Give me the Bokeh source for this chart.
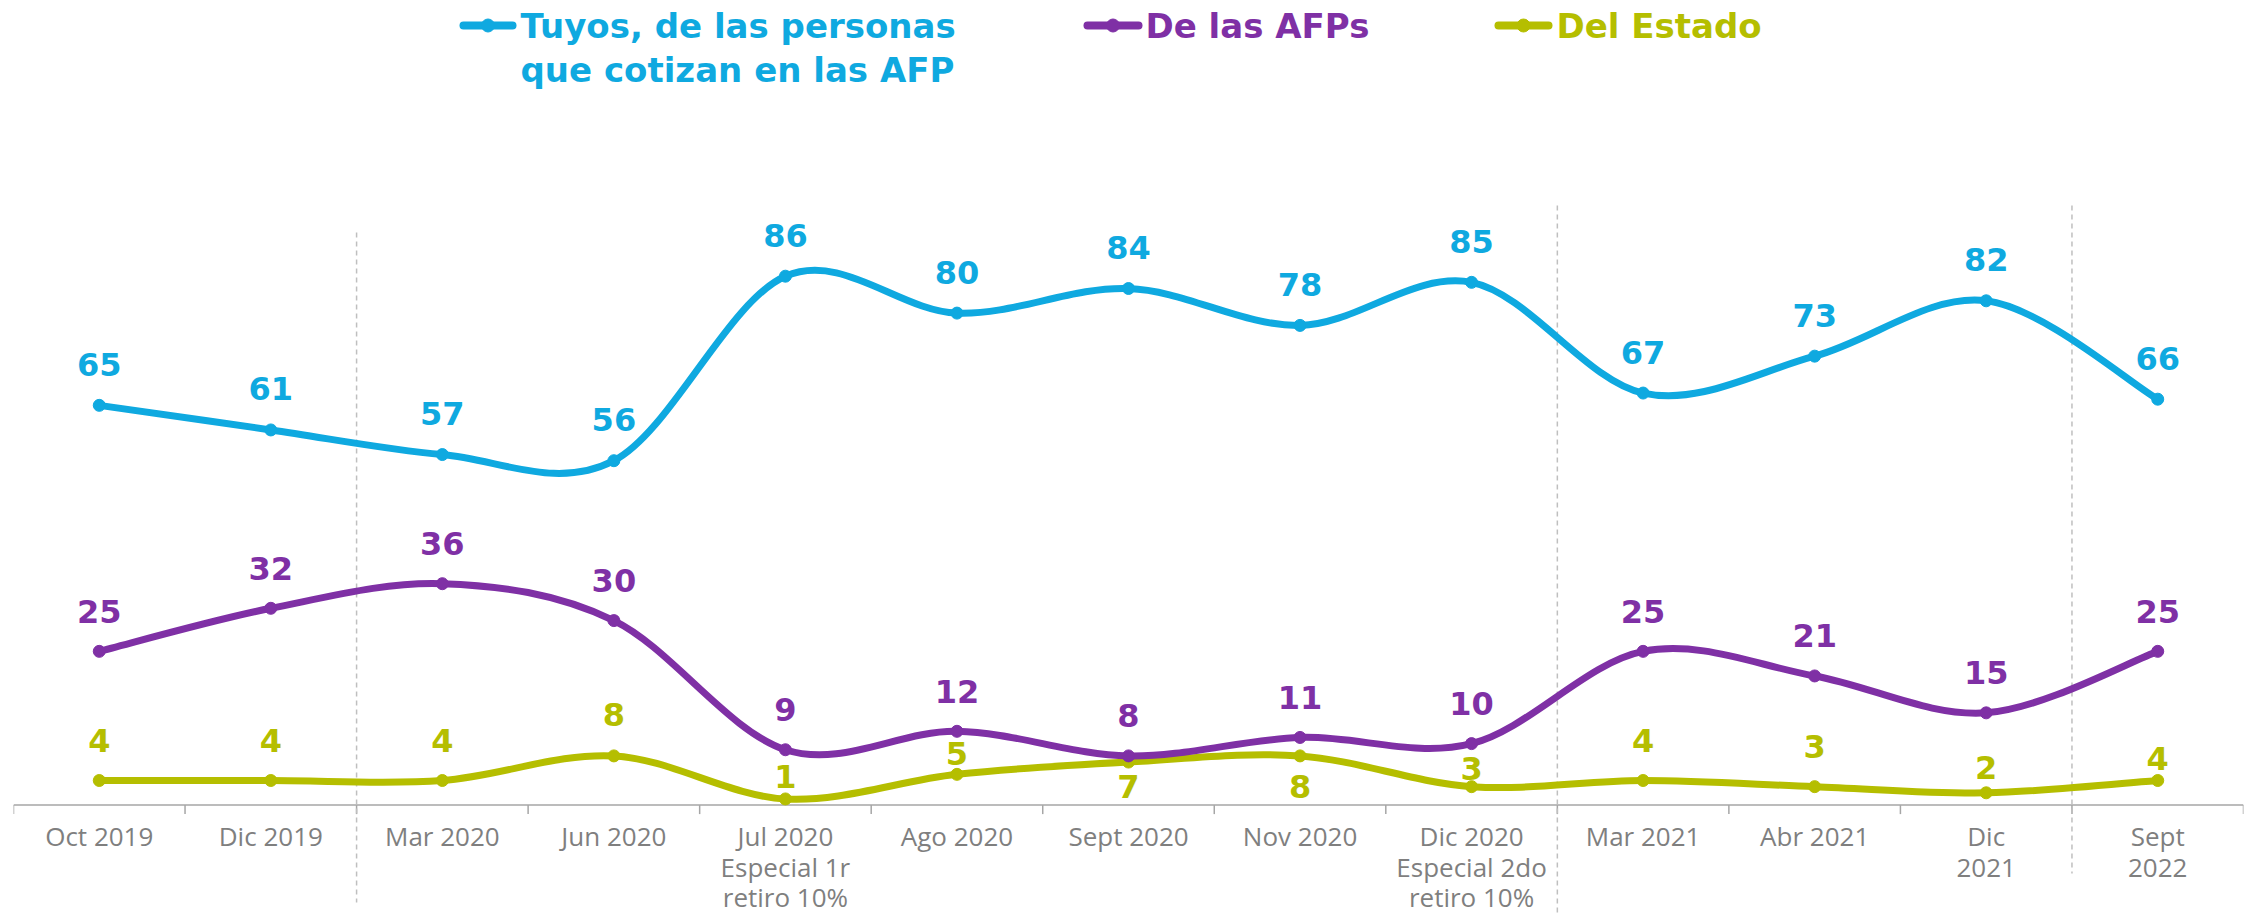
from bokeh.plotting import figure
from bokeh.models import Range1d, ColumnDataSource
from bokeh.core.properties import value
from bokeh.embed import file_html
from bokeh.resources import INLINE

# ---------------- data ----------------
categories = [
    "Oct 2019", "Dic 2019", "Mar 2020", "Jun 2020",
    "Jul 2020\nEspecial 1r\nretiro 10%", "Ago 2020", "Sept 2020", "Nov 2020",
    "Dic 2020\nEspecial 2do\nretiro 10%", "Mar 2021", "Abr 2021",
    "Dic\n2021", "Sept\n2022",
]
tuyos = [65, 61, 57, 56, 86, 80, 84, 78, 85, 67, 73, 82, 66]
afps = [25, 32, 36, 30, 9, 12, 8, 11, 10, 25, 21, 15, 25]
estado = [4, 4, 4, 8, 1, 5, 7, 8, 3, 4, 3, 2, 4]
series_names = ["Tuyos, de las personas\nque cotizan en las AFP", "De las AFPs", "Del Estado"]
separator_after = [1, 8, 11]  # dashed separators after these category indices

# ---------------- style ----------------
colors = ["#0FA9E0", "#7F30A5", "#B5BE00"]
TICK_FONT = "Open Sans"
BOLD_FONT = "DejaVu Sans"
W, H = 2252, 916
BL, BR = 13, 9
FRAME_W = W - BL - BR
PXU = 6.15             # px per value unit
ZERO_Y = 804.6         # canvas y of value 0
y_top = ZERO_Y / PXU
y_bot = -(H - ZERO_Y) / PXU
n = len(categories)
XU = FRAME_W / n


def ypx(cy):
    return (ZERO_Y - cy) / PXU


def xpx(cx):
    return -0.5 + (cx - BL) / XU


# label centre offsets above point (px); negative = below
label_off = [
    [41] * n,
    [40] * n,
    [40, 40, 40, 41, 22, 21, -24, -31, 18, 40, 40, 25, 22],
]
LFS = 32

p = figure(width=W, height=H, output_backend="svg", toolbar_location=None,
           x_range=Range1d(-0.5, n - 0.5), y_range=Range1d(y_bot, y_top),
           x_axis_location=None, y_axis_location=None,
           min_border_left=BL, min_border_right=BR, min_border_top=0, min_border_bottom=0)
p.outline_line_color = None
p.xgrid.visible = False
p.ygrid.visible = False
p.background_fill_color = "white"
p.border_fill_color = "white"

xs = list(range(n))

# axis line and ticks at category boundaries
p.segment(x0=[-0.5], y0=[0], x1=[n - 0.5], y1=[0], line_color="#A6A6A6", line_width=1.5)
bounds = [i - 0.5 for i in range(n + 1)]
p.segment(x0=bounds, y0=[0] * len(bounds), x1=bounds, y1=[-9 / PXU] * len(bounds),
          line_color="#A6A6A6", line_width=1.5)

# dashed separators
sep_x = [i + 0.5 for i in separator_after]
sep_top = [ypx(232), ypx(205), ypx(205)]
sep_bot = [ypx(902), ypx(916), ypx(873)]
p.segment(x0=sep_x, y0=sep_top, x1=sep_x, y1=sep_bot, line_color="#BFBFBF",
          line_width=1.5, line_dash="5 4")

# tick labels
p.text(x=xs, y=[0] * n, text=categories, text_font=value(TICK_FONT), text_font_size="26px",
       text_color="#7F7F7F", text_align="center", text_baseline="top",
       text_line_height=0.85, y_offset=13)


def smooth(xv, yv):
    m = len(xv)
    P = list(zip(xv, yv))
    segs = {k: [] for k in ("x0", "y0", "x1", "y1", "cx0", "cy0", "cx1", "cy1")}
    for i in range(m - 1):
        p0 = P[i - 1] if i > 0 else P[i]
        p1 = P[i]
        p2 = P[i + 1]
        p3 = P[i + 2] if i + 2 < m else P[i + 1]
        segs["x0"].append(p1[0]); segs["y0"].append(p1[1])
        segs["x1"].append(p2[0]); segs["y1"].append(p2[1])
        segs["cx0"].append(p1[0] + (p2[0] - p0[0]) / 6)
        segs["cy0"].append(p1[1] + (p2[1] - p0[1]) / 6)
        segs["cx1"].append(p2[0] - (p3[0] - p1[0]) / 6)
        segs["cy1"].append(p2[1] - (p3[1] - p1[1]) / 6)
    return ColumnDataSource(segs)


for vals, col in zip([estado, afps, tuyos], [colors[2], colors[1], colors[0]]):
    p.bezier(x0="x0", y0="y0", x1="x1", y1="y1", cx0="cx0", cy0="cy0", cx1="cx1", cy1="cy1",
             source=smooth(xs, vals), line_color=col, line_width=7, line_cap="round")
    p.scatter(x=xs, y=vals, size=12, fill_color=col, line_color=col)

for vals, col, offs in zip([tuyos, afps, estado], colors, label_off):
    src = ColumnDataSource(dict(x=xs, y=vals, t=[str(v) for v in vals],
                                off=[-o for o in offs]))
    p.text(x="x", y="y", text="t", source=src, y_offset="off",
           text_font=value(BOLD_FONT), text_font_style="bold", text_font_size=f"{LFS}px",
           text_color=col, text_align="center", text_baseline="middle")

# legend (manual)
leg_y = ypx(25)
leg = [(459, 516, 520), (1083, 1142, 1145), (1494, 1552, 1556)]
for (a, b, t), col, name in zip(leg, colors, series_names):
    p.line(x=[xpx(a + 4), xpx(b - 4)], y=[leg_y, leg_y], line_color=col, line_width=8,
           line_cap="round")
    p.scatter(x=[xpx((a + b) / 2)], y=[leg_y], size=13, fill_color=col, line_color=col)
    p.text(x=[xpx(t)], y=[ypx(5)], text=[name], text_font=value(BOLD_FONT),
           text_font_style="bold", text_font_size="34px", text_color=col,
           text_align="left", text_baseline="top", text_line_height=1.10)

open("out.html", "w").write(file_html(p, INLINE))
